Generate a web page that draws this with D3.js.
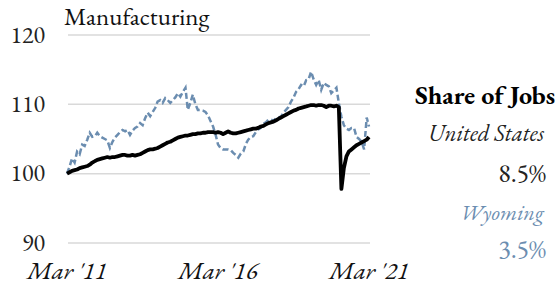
<!DOCTYPE html>
<html>
<head>
	<script src="https://cdn.jsdelivr.net/npm/d3@7"></script>
	<style>
		body { margin: 0; background: #fff; }
		text { font-family: "EB Garamond", Garamond, "Liberation Serif", serif; font-variant-numeric: lining-nums; }
	</style>
</head>
<body>
	<script>
		// monthly index, Mar 2011 = 100
		var start = new Date(2011, 2, 1);

		var us = [
			100.0, 100.2, 100.4, 100.5, 100.6, 100.8, 100.9, 101.0, 101.1, 101.3,
			101.6, 101.8, 102.0, 102.1, 102.2, 102.3, 102.4, 102.3, 102.4, 102.4, 102.5, 102.6,
			102.7, 102.7, 102.6, 102.6, 102.7, 102.6, 102.7, 102.8, 103.0, 103.2, 103.4, 103.5,
			103.5, 103.6, 103.7, 103.9, 104.1, 104.3, 104.5, 104.6, 104.8, 105.0, 105.2, 105.3,
			105.4, 105.5, 105.5, 105.6, 105.7, 105.7, 105.8, 105.8, 105.9, 105.9, 106.0, 106.0,
			106.0, 105.9, 106.0, 105.9, 105.7, 105.9, 106.1, 105.9, 105.8, 105.8, 105.9, 106.0,
			106.1, 106.2, 106.3, 106.4, 106.5, 106.5, 106.6, 106.8, 106.9, 107.1, 107.3, 107.4,
			107.5, 107.7, 107.9, 108.1, 108.3, 108.5, 108.7, 108.9, 109.1, 109.2, 109.4, 109.5,
			109.6, 109.7, 109.8, 109.9, 109.9, 109.8, 109.9, 109.9, 109.8, 109.6, 109.8, 109.8,
			109.7, 109.8, 109.6, 97.8, 100.8, 102.5, 103.2, 103.5, 103.8, 104.1, 104.3, 104.5,
			104.7, 104.9, 105.3
		];

		var wy = [
			100.0, 101.0, 102.2, 101.6, 103.2, 102.8, 104.2, 104.0, 104.9, 105.9,
			105.3, 105.4, 105.9, 105.4, 105.2, 105.0, 104.8, 103.7, 104.6, 105.2, 105.6, 106.0,
			106.3, 106.1, 106.3, 105.6, 106.2, 106.6, 106.8, 107.3, 107.0, 108.0, 108.8, 108.3,
			108.9, 109.5, 110.4, 110.6, 110.2, 110.9, 110.6, 110.2, 110.6, 111.0, 111.6, 111.1,
			111.8, 112.4, 109.2, 110.2, 111.4, 110.0, 109.2, 109.2, 109.1, 108.9, 108.4, 107.6,
			106.8, 105.6, 104.2, 103.7, 103.5, 103.5, 103.5, 103.4, 103.0, 102.7, 102.3, 102.9,
			103.2, 104.3, 104.9, 105.3, 105.4, 106.0, 106.4, 106.6, 107.2, 107.4, 107.8, 107.8,
			107.6, 108.0, 108.1, 108.2, 108.8, 109.2, 109.6, 110.4, 111.0, 111.8, 112.2, 112.8,
			112.6, 113.5, 113.6, 114.7, 113.6, 112.8, 113.5, 112.1, 113.1, 112.8, 112.6, 111.6,
			112.0, 112.4, 110.2, 108.2, 107.0, 106.5, 106.3, 106.6, 106.6, 105.3, 105.0, 104.6,
			103.5, 108.1, 106.8
		];

		var yTicks = [90, 100, 110, 120];
		var xTicks = [new Date(2011, 2, 1), new Date(2016, 2, 1), new Date(2021, 2, 1)];
		var xTickLabels = ["Mar '11", "Mar '16", "Mar '21"];

		var legendTitle = "Share of Jobs";
		var legendNames = ["United States", "Wyoming"];
		var legendShares = ["8.5%", "3.5%"];

		var blue = "#6b8db0";
		var W = 558, H = 288;

		function monthDate(i) { return d3.timeMonth.offset(start, i); }

		var svg = d3.select('body').append('svg')
			.attr('width', W)
			.attr('height', H);

		var x = d3.scaleTime()
			.domain([start, new Date(2021, 2, 1)])
			.range([67, 369]);

		var y = d3.scaleLinear()
			.domain([90, 120])
			.range([243, 35]);

		// gridlines
		svg.append('g').selectAll('line')
			.data(yTicks)
			.enter().append('line')
			.attr('x1', 68)
			.attr('x2', 370)
			.attr('y1', function(d) { return y(d); })
			.attr('y2', function(d) { return y(d); })
			.style('stroke', '#d9d9d9')
			.style('stroke-width', 1.5);

		// y labels
		svg.append('g').selectAll('text')
			.data(yTicks)
			.enter().append('text')
			.attr('x', 45)
			.attr('y', function(d) { return y(d) + 7.5; })
			.attr('text-anchor', 'end')
			.style('font-size', '24px')
			.style('fill', '#222')
			.text(function(d) { return d; });

		// x labels
		svg.append('g').selectAll('text')
			.data(xTicks)
			.enter().append('text')
			.attr('x', function(d) { return x(d); })
			.attr('y', 279)
			.attr('text-anchor', 'middle')
			.style('font-size', '25px')
			.style('font-style', 'italic')
			.style('fill', '#111')
			.text(function(d, i) { return xTickLabels[i]; });

		var line = d3.line()
			.x(function(d, i) { return x(monthDate(i)); })
			.y(function(d) { return y(d); });

		svg.append('path')
			.datum(wy)
			.attr('d', line)
			.style('fill', 'none')
			.style('stroke', blue)
			.style('stroke-width', 2.5)
			.style('stroke-dasharray', '6,3');

		svg.append('path')
			.datum(us)
			.attr('d', line)
			.style('fill', 'none')
			.style('stroke', '#000')
			.style('stroke-width', 3.8)
			.style('stroke-linejoin', 'round');

		// title
		svg.append('text')
			.attr('x', 64)
			.attr('y', 25)
			.style('font-size', '25px')
			.style('fill', '#111')
			.text('Manufacturing');

		// legend
		svg.append('text')
			.attr('x', 555)
			.attr('y', 104)
			.attr('text-anchor', 'end')
			.style('font-size', '26px')
			.style('font-weight', 'bold')
			.style('fill', '#000')
			.text(legendTitle);

		var legendColors = ['#222', blue];
		var nameY = [141, 220];
		var shareY = [182, 258];
		var nameSize = ['23px', '22px'];

		legendNames.forEach(function(n, i) {
			svg.append('text')
				.attr('x', 544)
				.attr('y', nameY[i])
				.attr('text-anchor', 'end')
				.style('font-size', nameSize[i])
				.style('font-style', 'italic')
				.style('fill', legendColors[i])
				.text(n);
			svg.append('text')
				.attr('x', 546)
				.attr('y', shareY[i])
				.attr('text-anchor', 'end')
				.style('font-size', '26px')
				.style('fill', legendColors[i])
				.text(legendShares[i]);
		});
	</script>
</body>
</html>
